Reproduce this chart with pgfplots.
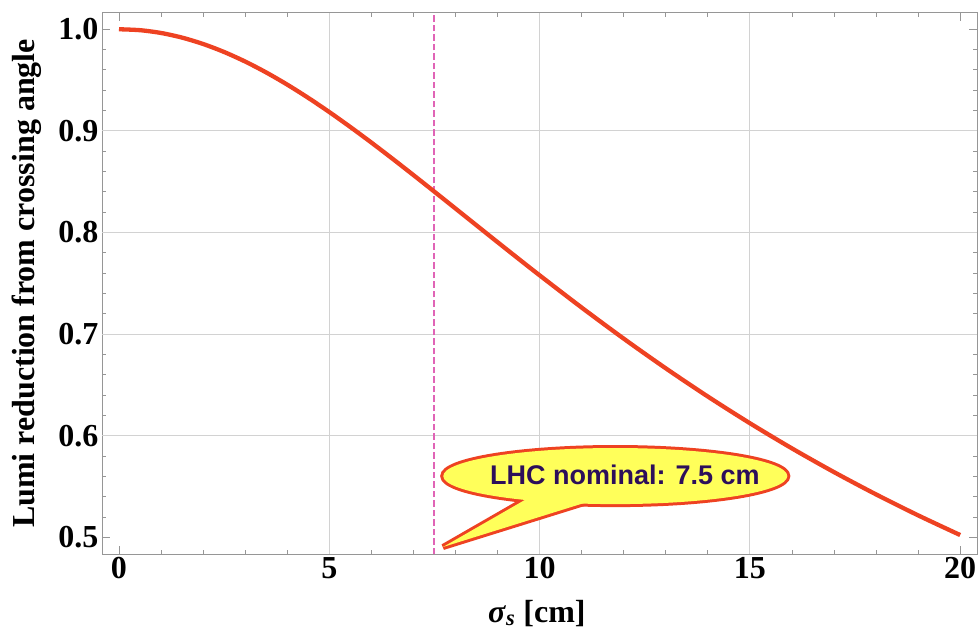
\documentclass[border=0pt]{standalone}
\usepackage{fontspec}
\setmainfont{Liberation Serif}
\newfontfamily\calloutfont{Liberation Sans}
\usepackage{pgfplots}
\pgfplotsset{compat=1.18}
\definecolor{curve}{RGB}{238,66,34}
\definecolor{dashc}{RGB}{224,100,182}
\definecolor{framec}{RGB}{150,150,150}
\definecolor{gridc}{RGB}{210,210,210}
\definecolor{callfill}{RGB}{255,255,90}
\definecolor{calltext}{RGB}{45,15,90}
\begin{document}
\begin{tikzpicture}
\begin{axis}[
  scale only axis, width=875pt, height=541pt,
  xmin=-0.404, xmax=20.4, ymin=0.4836, ymax=1.016,
  xtick={0,5,10,15,20}, ytick={0.5,0.6,0.7,0.8,0.9,1.0},
  minor x tick num=4, minor y tick num=4,
  tick align=inside,
  major tick length=8pt, minor tick length=4pt,
  axis line style={framec, line width=1pt},
  tick style={framec, line width=0.8pt},
  /pgf/number format/assume math mode=true,
  tick label style={font=\bfseries\fontsize{32}{36}\selectfont},
  yticklabel style={/pgf/number format/.cd, fixed, fixed zerofill, precision=1},
  extra x ticks={5,10,15}, extra x tick labels={},
  extra x tick style={grid=major, major grid style={gridc, line width=0.8pt}, major tick length=0pt},
  extra y ticks={0.6,0.7,0.8,0.9}, extra y tick labels={},
  extra y tick style={grid=major, major grid style={gridc, line width=0.8pt}, major tick length=0pt},
  ylabel={Lumi reduction from crossing angle},
  ylabel style={at={(axis description cs:-0.0766,0.5)}, rotate=0, anchor=base, font=\bfseries\fontsize{32}{36}\selectfont},
  xlabel={\textit{σ}\textsubscript{\textit{s}} [cm]},
  xlabel style={at={(axis description cs:0.497,-0.1257)}, anchor=base, font=\bfseries\fontsize{32}{36}\selectfont},
]
\addplot[dashc, line width=2pt, dash pattern=on 6.5pt off 3pt] coordinates {(7.5,0.4836) (7.5,1.016)};
\addplot[curve, line width=4.3pt, smooth] coordinates {
(0,1.00000) (0.5,0.99908) (1,0.99633) (1.5,0.99177) (2,0.98550) (2.5,0.97761)
(3,0.96823) (3.5,0.95749) (4,0.94552) (4.5,0.93248) (5,0.91854) (5.5,0.90382)
(6,0.88849) (6.5,0.87268) (7,0.85652) (7.5,0.84012) (8,0.82360) (8.5,0.80704)
(9,0.79052) (9.5,0.77411) (10,0.75788) (11,0.72613)
(12,0.69554) (13,0.66633) (14,0.63857) (15,0.61231) (16,0.58753) (17,0.56420)
(18,0.54226) (19,0.52164) (20,0.50226)};
% callout: strokes first, fills after -> union outline
\draw[curve, line width=6pt, line join=bevel] (axis cs:7.705,0.4905) -- (axis cs:9.73,0.5387) -- (axis cs:11.13,0.5347) -- cycle;
\draw[curve, line width=6pt] (axis cs:11.8,0.5603) ellipse [x radius=4.09, y radius=0.0276];
\fill[callfill] (axis cs:7.705,0.4905) -- (axis cs:9.73,0.5387) -- (axis cs:11.13,0.5347) -- cycle;
\fill[callfill] (axis cs:11.8,0.5603) ellipse [x radius=4.09, y radius=0.0276];
\node[font=\calloutfont\bfseries\fontsize{27}{30}\selectfont, text=calltext] at (axis cs:12.03,0.5615) {LHC nominal: 7.5 cm};
\coordinate (bbl) at (axis description cs:-0.11657,-0.14972);
\coordinate (btr) at (axis description cs:1.00229,1.02403);
\end{axis}
\pgfresetboundingbox
\path (bbl) rectangle (btr);
\end{tikzpicture}
\end{document}
